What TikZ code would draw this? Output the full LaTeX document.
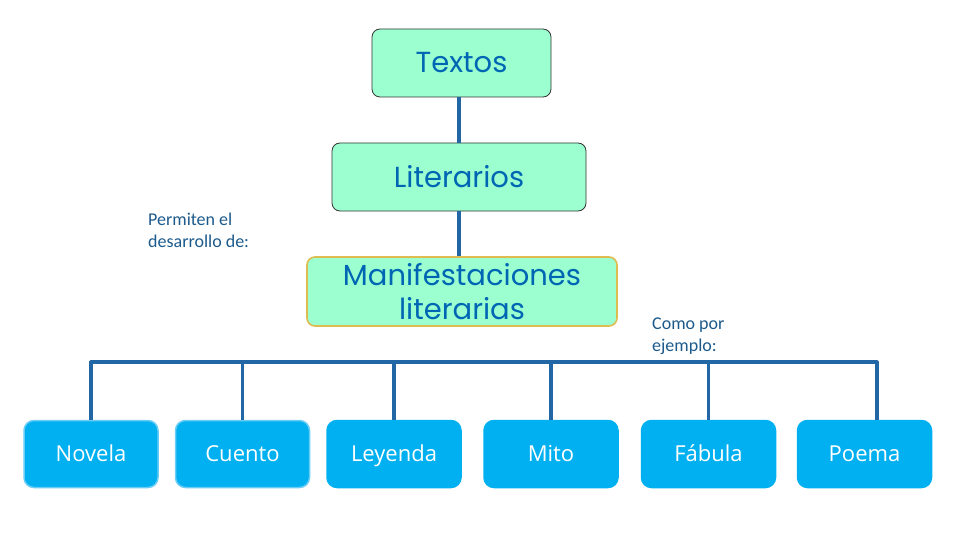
\documentclass[tikz,border=0pt]{standalone}
\usepackage{fontspec}
\usepackage{tikz}
\newfontfamily\boxfont{Poppins}
\newfontfamily\itemfont{Open Sans}
\newfontfamily\notefont{Carlito}

\definecolor{mint}{RGB}{155,255,208}
\definecolor{inkblue}{RGB}{0,102,180}
\definecolor{linkblue}{RGB}{35,102,165}
\definecolor{itemblue}{RGB}{0,176,240}
\definecolor{itemedge}{RGB}{105,205,245}
\definecolor{goldedge}{RGB}{222,188,80}
\definecolor{notetext}{RGB}{28,90,140}

\tikzset{
    topbox/.style={draw=black!80, line width=0.8pt, fill=mint, rounded corners=8pt,
        inner sep=0pt, text=inkblue, font=\boxfont\fontsize{29}{34}\selectfont, align=center},
    itembox/.style={draw=itemblue, line width=1.5pt, fill=itemblue, rounded corners=10pt,
        minimum width=134pt, minimum height=67pt, inner sep=0pt, text=white,
        text height=15.5pt, text depth=0pt, font=\itemfont\fontsize{22}{26}\selectfont},
    link/.style={draw=linkblue, line width=3.2pt},
    note/.style={anchor=north west, align=left, text=notetext, inner sep=0pt,
        font=\notefont\fontsize{18}{21.5}\selectfont}
}

\begin{document}
\begin{tikzpicture}[x=1pt,y=-1pt]
    \useasboundingbox (0,0) rectangle (960,540);

    % Upper chain
    \node[topbox, minimum width=179pt, minimum height=68pt] (textos) at (461.5,63) {Textos};
    \node[topbox, minimum width=254pt, minimum height=68pt] (literarios) at (459,177) {Literarios};
    \node[topbox, draw=goldedge, line width=1.6pt, minimum width=310pt, minimum height=69pt]
        (manif) at (462,291.5) {Manifestaciones\\literarias};
    \draw[link] (textos.south -| literarios) -- (literarios.north);
    \draw[link] (literarios.south) -- (literarios.south |- manif.north);

    % Side notes
    \node[note] (permiten) at (148,213) {Permiten el\\desarrollo de:};
    \node[note] (como) at (652,318) {Como por\\ejemplo:};

    % Lower row
    \node[itembox, draw=itemedge] (novela) at (91,454) {Novela};
    \node[itembox, draw=itemedge] (cuento) at (242.5,454) {Cuento};
    \node[itembox] (leyenda) at (394,454) {Leyenda};
    \node[itembox] (mito) at (551,454) {Mito};
    \node[itembox] (fabula) at (708.5,454) {Fábula};
    \node[itembox] (poema) at (864.5,454) {Poema};

    % Bar and drops
    \coordinate (barL) at (91,362);
    \coordinate (barR) at (877,362);
    \draw[link, line join=round] (novela.north) -- (barL) -- (barR) -- (barR |- poema.north);
    \foreach \n in {cuento,leyenda,mito,fabula}
        \draw[link] (\n.north) -- (\n.north |- barL);
\end{tikzpicture}
\end{document}
